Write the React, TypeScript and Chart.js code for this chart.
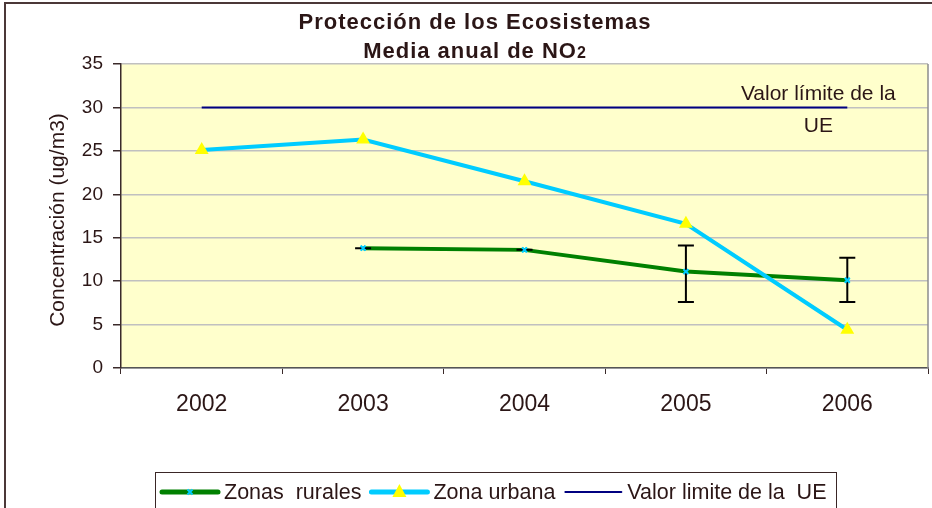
import React, { useEffect, useRef } from "react";
import { Chart, registerables } from "chart.js";

Chart.register(...registerables);

const categories = ["2002", "2003", "2004", "2005", "2006"];
const ruralValues: (number | null)[] = [null, 13.8, 13.6, 11.1, 10.1];
const urbanValues: number[] = [25.1, 26.3, 21.5, 16.6, 4.4];
const limitValues: number[] = [30, 30, 30, 30, 30];
const ruralErrLow: (number | null)[] = [null, 13.8, 13.6, 7.6, 7.6];
const ruralErrHigh: (number | null)[] = [null, 13.8, 13.6, 14.1, 12.7];
const yMin = 0;
const yMax = 35;
const yStep = 5;

const titleLine1 = "Protección de los Ecosistemas";
const titleLine2 = "Media anual de NO";
const titleSub = "2";
const yTitle = "Concentración (ug/m3)";
const annotationLines = ["Valor límite de la", "UE"];
const ruralLabel = "Zonas  rurales";
const urbanLabel = "Zona urbana";
const limitLabel = "Valor limite de la  UE";

const FONT = "'Liberation Sans', Arial, Helvetica, sans-serif";
const TEXT = "#2b1616";
const GREEN = "#008000";
const CYAN = "#00ccff";
const NAVY = "#000080";
const YELLOW = "#ffff00";

const customPlugin = {
  id: "customDraw",
  beforeDraw(chart: any) {
    const { ctx, chartArea } = chart;
    ctx.save();
    ctx.fillStyle = "#ffffff";
    ctx.fillRect(0, 0, chart.width, chart.height);
    ctx.fillStyle = "#ffffcc";
    ctx.fillRect(chartArea.left, chartArea.top, chartArea.right - chartArea.left, chartArea.bottom - chartArea.top);
    ctx.restore();
  },
  afterDatasetsDraw(chart: any) {
    const { ctx } = chart;
    const xs = chart.scales.x;
    const ys = chart.scales.y;
    ctx.save();
    ctx.strokeStyle = "#000000";
    ctx.lineWidth = 2;
    for (let i = 0; i < categories.length; i++) {
      const lo = ruralErrLow[i];
      const hi = ruralErrHigh[i];
      if (lo == null || hi == null) continue;
      const x = xs.getPixelForValue(i);
      const yl = ys.getPixelForValue(lo);
      const yh = ys.getPixelForValue(hi);
      ctx.beginPath();
      if (Math.abs(yl - yh) > 0.5) {
        ctx.moveTo(x, yh);
        ctx.lineTo(x, yl);
      }
      ctx.moveTo(x - 8, yh);
      ctx.lineTo(x + 8, yh);
      ctx.moveTo(x - 8, yl);
      ctx.lineTo(x + 8, yl);
      ctx.stroke();
    }
    ctx.strokeStyle = CYAN;
    ctx.lineWidth = 2;
    for (let i = 0; i < categories.length; i++) {
      const v = ruralValues[i];
      if (v == null) continue;
      const x = xs.getPixelForValue(i);
      const y = ys.getPixelForValue(v);
      ctx.beginPath();
      ctx.moveTo(x - 2.5, y - 2.5);
      ctx.lineTo(x + 2.5, y + 2.5);
      ctx.moveTo(x + 2.5, y - 2.5);
      ctx.lineTo(x - 2.5, y + 2.5);
      ctx.stroke();
    }
    ctx.restore();
  },
  afterDraw(chart: any) {
    const { ctx, chartArea } = chart;
    const xs = chart.scales.x;
    const ys = chart.scales.y;
    ctx.save();

    ctx.strokeStyle = "#8c8c8c";
    ctx.lineWidth = 1.5;
    ctx.beginPath();
    ctx.moveTo(chartArea.right, chartArea.top);
    ctx.lineTo(chartArea.right, chartArea.bottom);
    ctx.stroke();

    ctx.strokeStyle = "#4b3838";
    ctx.lineWidth = 2;
    ctx.beginPath();
    ctx.moveTo(5, chart.height + 2);
    ctx.lineTo(5, 3);
    ctx.lineTo(chart.width + 2, 3);
    ctx.stroke();

    ctx.fillStyle = TEXT;
    ctx.textBaseline = "middle";
    ctx.textAlign = "center";
    ctx.font = `bold 22px ${FONT}`;
    (ctx as any).letterSpacing = "1px";
    ctx.fillText(titleLine1, 475, 23);
    const w2 = ctx.measureText(titleLine2).width;
    ctx.font = `bold 16px ${FONT}`;
    const ws = ctx.measureText(titleSub).width;
    const start = 475 - (w2 + ws) / 2;
    ctx.textAlign = "left";
    ctx.font = `bold 22px ${FONT}`;
    ctx.textBaseline = "alphabetic";
    ctx.fillText(titleLine2, start, 58);
    ctx.font = `bold 16px ${FONT}`;
    ctx.fillText(titleSub, start + w2, 58);
    (ctx as any).letterSpacing = "0px";

    ctx.save();
    ctx.translate(58, 220);
    ctx.rotate(-Math.PI / 2);
    ctx.textAlign = "center";
    ctx.textBaseline = "middle";
    ctx.font = `21px ${FONT}`;
    ctx.fillText(yTitle, 0, 0);
    ctx.restore();

    const ax = xs.getPixelForValue(4) - 29;
    const ay = ys.getPixelForValue(limitValues[4]);
    ctx.textAlign = "center";
    ctx.textBaseline = "middle";
    ctx.font = `21px ${FONT}`;
    ctx.fillText(annotationLines[0], ax, ay - 13);
    ctx.fillText(annotationLines[1], ax, ay + 19);

    ctx.strokeStyle = "#3a2626";
    ctx.lineWidth = 1;
    ctx.strokeRect(155.5, 472.5, 681, 40);
    const items = [
      { label: ruralLabel, color: GREEN, w: 5, marker: "x" },
      { label: urbanLabel, color: CYAN, w: 5, marker: "tri" },
      { label: limitLabel, color: NAVY, w: 2, marker: "" },
    ];
    let lx = 162;
    const ly = 492;
    ctx.font = `21.5px ${FONT}`;
    ctx.textAlign = "left";
    ctx.textBaseline = "middle";
    for (const it of items) {
      ctx.strokeStyle = it.color;
      ctx.lineWidth = it.w;
      ctx.lineCap = "round";
      ctx.beginPath();
      ctx.moveTo(lx, ly);
      ctx.lineTo(lx + 56, ly);
      ctx.stroke();
      ctx.lineCap = "butt";
      const mx = lx + 28;
      if (it.marker === "x") {
        ctx.strokeStyle = CYAN;
        ctx.lineWidth = 2;
        ctx.beginPath();
        ctx.moveTo(mx - 2.5, ly - 2.5);
        ctx.lineTo(mx + 2.5, ly + 2.5);
        ctx.moveTo(mx + 2.5, ly - 2.5);
        ctx.lineTo(mx - 2.5, ly + 2.5);
        ctx.stroke();
      } else if (it.marker === "tri") {
        ctx.fillStyle = YELLOW;
        ctx.beginPath();
        ctx.moveTo(mx, ly - 8);
        ctx.lineTo(mx + 7, ly + 5);
        ctx.lineTo(mx - 7, ly + 5);
        ctx.closePath();
        ctx.fill();
      }
      ctx.fillStyle = TEXT;
      ctx.fillText(it.label, lx + 62, ly + 1);
      lx = lx + 62 + ctx.measureText(it.label).width + 10;
    }
    ctx.restore();
  },
};

export default function App() {
  const ref = useRef<HTMLCanvasElement | null>(null);
  useEffect(() => {
    document.body.style.margin = "0";
    const canvas = ref.current;
    if (!canvas) return;
    const chart = new Chart(canvas, {
      type: "line",
      data: {
        labels: categories,
        datasets: [
          {
            label: urbanLabel,
            data: urbanValues,
            borderColor: CYAN,
            backgroundColor: YELLOW,
            borderWidth: 4,
            pointStyle: "triangle",
            pointRadius: 8,
            pointBorderWidth: 0,
            pointBackgroundColor: YELLOW,
            pointBorderColor: YELLOW,
            tension: 0,
          },
          {
            label: ruralLabel,
            data: ruralValues,
            borderColor: GREEN,
            backgroundColor: CYAN,
            borderWidth: 4,
            pointStyle: "crossRot",
            pointRadius: 3,
            pointBorderWidth: 2,
            pointBorderColor: CYAN,
            spanGaps: false,
            tension: 0,
          },
          {
            label: limitLabel,
            data: limitValues,
            borderColor: NAVY,
            borderWidth: 2,
            pointRadius: 0,
            tension: 0,
          },
        ],
      },
      options: {
        responsive: false,
        animation: false,
        layout: { autoPadding: false, padding: { top: 64, right: 4, left: 0, bottom: 0 } },
        plugins: {
          legend: { display: false },
          title: { display: false },
          tooltip: { enabled: false },
        },
        scales: {
          x: {
            type: "category",
            offset: true,
            grid: {
              drawOnChartArea: false,
              offset: true,
              drawTicks: true,
              tickLength: 6,
              tickColor: "#3a2a2a",
            },
            border: { display: true, color: "#555555", width: 1.5 },
            ticks: {
              color: TEXT,
              font: { family: FONT, size: 23 },
              padding: 17,
              maxRotation: 0,
            },
            afterFit(scale: any) {
              scale.height = 140;
              scale.paddingLeft = 0;
              scale.paddingRight = 0;
            },
          },
          y: {
            min: yMin,
            max: yMax,
            ticks: {
              stepSize: yStep,
              color: TEXT,
              font: { family: FONT, size: 19 },
              padding: 10,
            },
            grid: {
              color: "#c0c0c0",
              lineWidth: 1.5,
              drawTicks: true,
              tickLength: 8,
              tickColor: "#3a2a2a",
            },
            border: { display: true, color: "#3a2a2a", width: 1.5 },
            afterFit(scale: any) {
              scale.width = 121;
              scale.paddingTop = 0;
              scale.paddingBottom = 0;
            },
          },
        },
      },
      plugins: [customPlugin],
    } as any);
    return () => chart.destroy();
  }, []);
  return (
    <div style={{ width: 932, height: 508 }}>
      <canvas ref={ref} width={932} height={508} style={{ width: 932, height: 508, display: "block" }} />
    </div>
  );
}
